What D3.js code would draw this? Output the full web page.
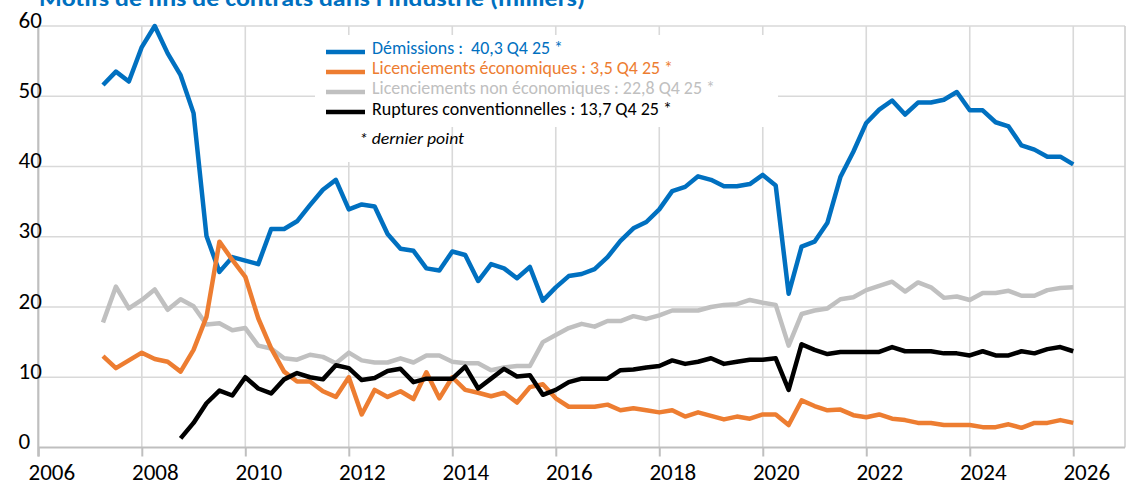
<!DOCTYPE html>
<html><head><meta charset="utf-8">
<script src="https://cdn.jsdelivr.net/npm/d3@7"></script>
<style>body{margin:0;background:#fff}svg{display:block}</style>
</head><body><svg id="c" width="1130" height="484"></svg>
<script>
const title = "Motifs de fins de contrats dans l'industrie (milliers)";
const startYear = 2007, endYear = 2025;
const quarters = [];
for (let yr = startYear; yr <= endYear; yr++) for (let q = 1; q <= 4; q++) quarters.push({year: yr, q: q});

const demissions = [51.6,53.5,52.1,57.0,60.0,56.1,53.0,47.6, 30.1,25.0,27.1,26.6,26.1,31.1,31.1,32.2,
  34.5,36.7,38.1,33.9,34.6,34.3,30.4,28.3, 28.0,25.5,25.2,27.9,27.4,23.7,26.1,25.5,
  24.1,25.7,20.9,22.8,24.4,24.7,25.4,27.1, 29.4,31.2,32.1,33.9,36.5,37.1,38.6,38.1,
  37.2,37.2,37.5,38.8,37.3,21.9,28.6,29.3, 32.0,38.5,42.1,46.2,48.1,49.4,47.4,49.1,
  49.1,49.5,50.6,48.0,48.0,46.3,45.7,43.0, 42.4,41.4,41.4,40.3];
const licEco = [13.0,11.3,12.4,13.5,12.6,12.2,10.8,13.9, 18.6,29.3,26.7,24.3,18.4,14.1,10.8,9.4,
  9.4,8.0,7.2,10.0,4.7,8.2,7.2,8.0, 6.9,10.7,7.0,10.0,8.2,7.8,7.3,7.8,
  6.4,8.6,9.0,7.0,5.8,5.8,5.8,6.1, 5.3,5.6,5.3,5.0,5.3,4.4,5.0,4.5,
  4.0,4.4,4.1,4.7,4.7,3.2,6.7,5.9, 5.3,5.4,4.6,4.3,4.7,4.1,3.9,3.5,
  3.5,3.2,3.2,3.2,2.9,2.9,3.3,2.8, 3.5,3.5,3.9,3.5];
const licNonEco = [17.8,22.9,19.8,21.0,22.5,19.6,21.1,20.1, 17.5,17.7,16.7,17.0,14.5,14.1,12.7,12.5,
  13.2,12.9,12.0,13.5,12.4,12.1,12.1,12.7, 12.1,13.1,13.1,12.2,12.0,12.0,11.0,11.4,
  11.6,11.6,15.0,16.0,17.0,17.6,17.2,18.0, 18.0,18.7,18.3,18.8,19.5,19.5,19.5,20.0,
  20.3,20.4,21.0,20.6,20.3,14.5,19.0,19.5, 19.8,21.1,21.4,22.4,23.0,23.6,22.2,23.5,
  22.8,21.3,21.5,21.0,22.0,22.0,22.3,21.6, 21.6,22.4,22.7,22.8];
const ruptures = [null,null,null,null,null,null,1.3,3.5, 6.3,8.1,7.4,10.0,8.4,7.7,9.7,10.6,
  10.0,9.7,11.7,11.3,9.6,9.9,10.9,11.2, 9.3,9.8,9.8,9.8,11.5,8.4,9.8,11.2,
  10.1,10.3,7.5,8.2,9.3,9.8,9.8,9.8, 11.0,11.1,11.4,11.6,12.4,11.9,12.2,12.7,
  11.9,12.2,12.5,12.5,12.7,8.2,14.7,13.9, 13.3,13.6,13.6,13.6,13.6,14.3,13.7,13.7,
  13.7,13.4,13.4,13.1,13.7,13.1,13.1,13.7, 13.4,14.0,14.3,13.7];

const legendLabels = ["Démissions :\u00a0 40,3 Q4 25 *", "Licenciements économiques : 3,5 Q4 25 *",
  "Licenciements non économiques : 22,8 Q4 25 *", "Ruptures conventionnelles : 13,7 Q4 25 *"];
const legendNote = "* dernier point";
const colors = ["#0070c0", "#ed7d31", "#c0c0c0", "#000000"];
const yTicks = [0,10,20,30,40,50,60];
const xTicks = [2006,2008,2010,2012,2014,2016,2018,2020,2022,2024,2026];

const svg = d3.select("#c");
const x = d3.scaleLinear().domain([2006, 2027]).range([38.3, 1125]);
const y = d3.scaleLinear().domain([0, 60]).range([447.5, 26]);
const font = "Carlito, 'Liberation Sans', Arial, sans-serif";

// gridlines
const g = svg.append("g");
g.selectAll("line.h").data(yTicks.filter(d => d > 0)).join("line")
  .attr("x1", x(2006)).attr("x2", x(2027)).attr("y1", d => y(d)).attr("y2", d => y(d))
  .attr("stroke", "#d9d9d9").attr("stroke-width", 1.6);
g.selectAll("line.v").data(xTicks.filter(d => d > 2006).concat([2027])).join("line")
  .attr("x1", d => x(d)).attr("x2", d => x(d)).attr("y1", y(0)).attr("y2", y(60))
  .attr("stroke", d => d === 2027 ? "#cfcfcf" : "#d9d9d9").attr("stroke-width", 1.6);

// axes
const xAxis = svg.append("g").attr("transform", `translate(0,${y(0)})`)
  .call(d3.axisBottom(x).tickValues(xTicks).tickSize(9).tickFormat(d3.format("d")).tickPadding(0));
xAxis.select(".domain").attr("d", `M${x(2006)},0H${x(2027)}`).attr("stroke", "#bfbfbf").attr("stroke-width", 2.2);
xAxis.selectAll(".tick line").attr("stroke", "#bfbfbf").attr("stroke-width", 2);
xAxis.selectAll(".tick text").attr("font-family", font).attr("font-size", 23).attr("fill", "#000")
  .attr("dy", null).attr("y", 32).attr("x", 13);

const yAxis = svg.append("g").attr("transform", `translate(${x(2006)},0)`)
  .call(d3.axisLeft(y).tickValues(yTicks).tickSize(0).tickFormat(d3.format("d")));
yAxis.select(".domain").attr("d", `M0,${y(60)}V${y(0) + 9}`).attr("stroke", "#bfbfbf").attr("stroke-width", 2.2);
yAxis.selectAll(".tick text").attr("font-family", font).attr("font-size", 23).attr("fill", "#000")
  .attr("text-anchor", "start").attr("x", 18.5 - x(2006)).attr("dy", null).attr("y", 1);

// legend boxes
svg.append("rect").attr("x", 315).attr("y", 35).attr("width", 463).attr("height", 92).attr("fill", "#fff");
svg.append("rect").attr("x", 340).attr("y", 127).attr("width", 105).attr("height", 35).attr("fill", "#fff");

// series
const series = [
  {name: legendLabels[0], values: demissions, color: colors[0]},
  {name: legendLabels[1], values: licEco, color: colors[1]},
  {name: legendLabels[2], values: licNonEco, color: colors[2]},
  {name: legendLabels[3], values: ruptures, color: colors[3]}
];
const line = d3.line()
  .defined(d => d.v !== null)
  .x(d => x(d.year + d.q / 4)).y(d => y(d.v));
const drawOrder = [0, 2, 1, 3];
drawOrder.forEach(i => {
  const s = series[i];
  const pts = quarters.map((qq, k) => ({year: qq.year, q: qq.q, v: s.values[k]}));
  svg.append("path").attr("d", line(pts)).attr("fill", "none").attr("stroke", s.color)
    .attr("stroke-width", 4.5).attr("stroke-linejoin", "round").attr("stroke-linecap", "butt");
});

// legend
const legWidths = [191, 301, 343, 300];
const lg = svg.append("g");
series.forEach((s, i) => {
  const ly = 52 + i * 20;
  lg.append("line").attr("x1", 326).attr("x2", 365).attr("y1", ly).attr("y2", ly)
    .attr("stroke", s.color).attr("stroke-width", 4.5);
  lg.append("text").attr("x", 372).attr("y", ly + 1.7 + (i === 3 ? 0.8 : 0)).text(s.name)
    .attr("font-family", font).attr("font-size", 17.5).attr("fill", s.color)
    .attr("textLength", legWidths[i]).attr("lengthAdjust", "spacingAndGlyphs");
});
lg.append("text").attr("x", 359).attr("y", 144).text(legendNote)
  .attr("font-family", font).attr("font-size", 17).attr("font-style", "italic").attr("fill", "#000")
  .attr("textLength", 105).attr("lengthAdjust", "spacingAndGlyphs");

// title
svg.append("text").attr("x", 39).attr("y", 6).text(title)
  .attr("font-family", font).attr("font-size", 22).attr("font-weight", "bold").attr("fill", "#0070c0")
  .attr("textLength", 546).attr("lengthAdjust", "spacingAndGlyphs");
</script></body></html>
